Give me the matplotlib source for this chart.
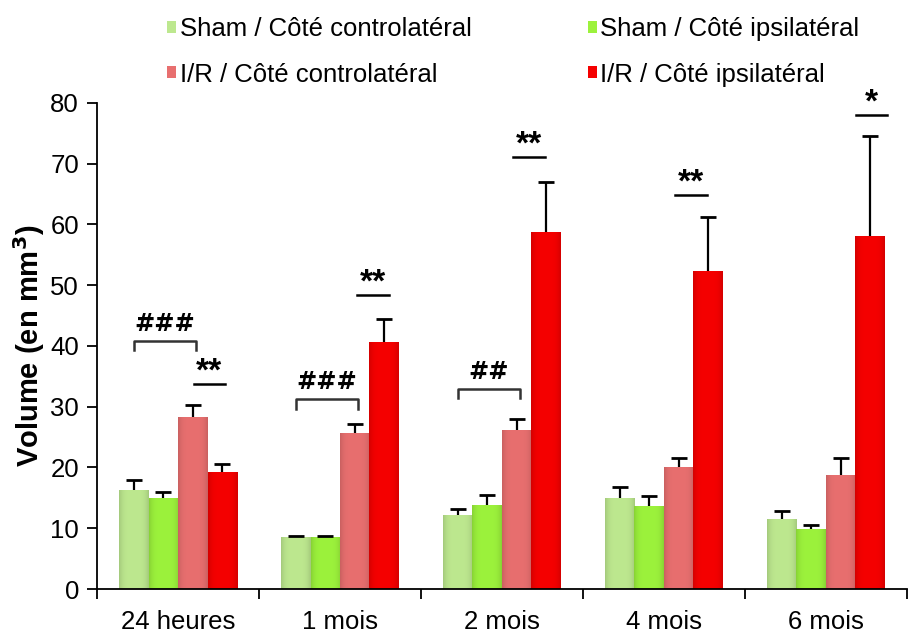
import matplotlib.pyplot as plt
import matplotlib.colors as mcolors
import numpy as np

labels = ["24 heures", "1 mois", "2 mois", "4 mois", "6 mois"]
series = ["Sham / Côté controlatéral", "Sham / Côté ipsilatéral",
          "I/R / Côté controlatéral", "I/R / Côté ipsilatéral"]
sham_contra = [16.3, 8.6, 12.1, 14.9, 11.6]
sham_contra_err = [1.6, 0.2, 1.0, 1.9, 1.3]
sham_ipsi = [15.0, 8.6, 13.8, 13.6, 9.9]
sham_ipsi_err = [0.9, 0.2, 1.6, 1.7, 0.6]
ir_contra = [28.3, 25.6, 26.1, 20.0, 18.8]
ir_contra_err = [1.9, 1.6, 1.9, 1.6, 2.7]
ir_ipsi = [19.2, 40.6, 58.8, 52.4, 58.1]
ir_ipsi_err = [1.4, 3.9, 8.1, 8.8, 16.5]

stars = ["**", "**", "**", "**", "*"]
star_y = [33.7, 48.4, 71.1, 64.8, 78.0]
hashes = ["###", "###", "##"]
hash_y = [40.8, 31.2, 32.9]


def shade(ax, patch, color):
    """horizontal gradient, darker on the sides like the excel bars"""
    rgb = np.array(mcolors.to_rgb(color))
    t = np.linspace(-1, 1, 40)
    k = 1 - 0.13 * t ** 4
    img = (rgb[None, :] * k[:, None])[None, :, :]
    x0, y0 = patch.get_x(), patch.get_y()
    im = ax.imshow(img, extent=[x0, x0 + patch.get_width(), y0,
                                y0 + patch.get_height()],
                   aspect="auto", zorder=2.1, interpolation="bilinear")
    im.set_clip_path(patch)


def main():
    plt.rcParams['font.family'] = ['Liberation Sans', 'DejaVu Sans']
    fs = 18.5
    fig = plt.figure(figsize=(9.12, 6.33), dpi=100)
    ax = fig.add_axes([0.1064, 0.0695, 0.888, 0.768])

    x = np.arange(len(labels))
    w = 0.182
    colors = ["#bde88f", "#9cf23c", "#e86f6f", "#f50000"]
    values = [sham_contra, sham_ipsi, ir_contra, ir_ipsi]
    errors = [sham_contra_err, sham_ipsi_err, ir_contra_err, ir_ipsi_err]
    bars = []
    for i in range(4):
        pos = x + (i - 1.5) * w
        b = ax.bar(pos, values[i], w, color=colors[i], linewidth=0,
                   label=series[i], zorder=2)
        for p in b:
            shade(ax, p, colors[i])
        eb = ax.errorbar(pos, values[i], yerr=[np.zeros(5), errors[i]],
                         fmt="none", ecolor="black", elinewidth=1.6,
                         capsize=5.5, capthick=2, zorder=3)
        eb[1][0].set_visible(False)  # no lower cap
        bars.append(b)

    # significance vs sham (red bars)
    shift = [-0.08, -0.07, -0.105, -0.105, 0.01]
    for i in range(5):
        cx = x[i] + 1.5 * w + shift[i]
        ax.plot([cx - 0.097, cx + 0.097], [star_y[i], star_y[i]],
                color="black", lw=1.8, zorder=3)
        ax.text(cx, star_y[i] - 0.6, stars[i], ha="center", va="bottom",
                fontsize=24, fontweight="bold")

    # brackets between contralateral sides
    for i in range(len(hashes)):
        x0 = x[i] - 1.5 * w
        x1 = x[i] + 0.5 * w + 0.02
        y = hash_y[i]
        ax.plot([x0, x0, x1, x1], [y - 1.5, y, y, y - 1.5],
                color="#333333", lw=1.8, zorder=3)
        ax.text((x0 + x1) / 2, y + 0.9, hashes[i], ha="center", va="bottom",
                fontsize=17.5, fontweight="bold", family="DejaVu Sans")

    ax.set_xlim(-0.5, 4.5)
    ax.set_ylim(0, 80)
    ax.set_yticks(range(0, 81, 10))
    ax.set_xticks(x)
    ax.set_xticklabels(labels)
    ax.set_xticks(np.arange(-0.5, 5, 1), minor=True)
    ax.tick_params(axis="x", which="major", length=0, pad=15, labelsize=fs)
    ax.tick_params(axis="x", which="minor", length=7, width=1.3,
                   direction="out")
    ax.tick_params(axis="y", length=7, width=1.3, labelsize=fs, pad=6)
    for s in ["top", "right"]:
        ax.spines[s].set_visible(False)
    for s in ["left", "bottom"]:
        ax.spines[s].set_linewidth(1.3)
    ax.set_ylabel("Volume (en mm$^\\mathbf{3}$)", fontsize=21,
                  fontweight="bold", labelpad=2)

    order = [0, 2, 1, 3]
    fig.legend([bars[k] for k in order], [series[k] for k in order],
               ncol=2, loc="upper left", bbox_to_anchor=(0.158, 1.01),
               frameon=False, fontsize=fs, handlelength=0.35,
               handleheight=0.35, handletextpad=0.15, columnspacing=4.5,
               labelspacing=0.85)

    fig.savefig("out.png", dpi=100)


if __name__ == "__main__":
    main()
